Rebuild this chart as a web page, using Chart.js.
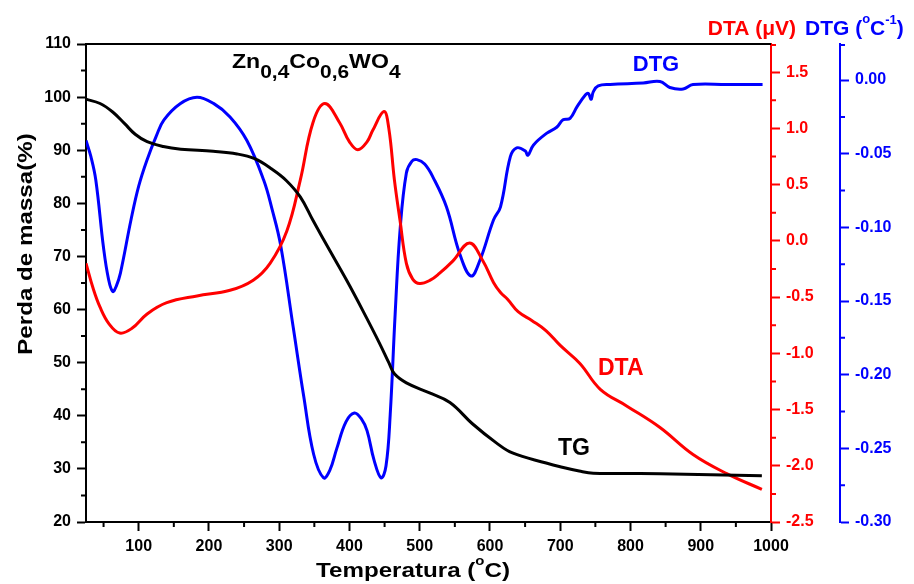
<!DOCTYPE html>
<html>
<head>
<meta charset="utf-8">
<script src="https://cdn.jsdelivr.net/npm/chart.js@4.4.1/dist/chart.umd.min.js"></script>
<style>
html, body { margin: 0; padding: 0; background: #fff; }
</style>
</head>
<body>
<canvas id="tgChart" width="914" height="584"></canvas>
<script>
// TG - mass loss (%)
const tgTemp = [25, 45, 63, 80, 95, 112, 135, 160, 206, 240, 265, 290, 310, 330, 348, 372, 396, 419, 443, 456, 464, 481, 514, 543, 575, 609, 632, 680, 700, 727, 747, 842, 987];
const tgMass = [99.6, 98.8, 97.2, 95.0, 93.0, 91.6, 90.7, 90.2, 89.8, 89.3, 88.4, 86.4, 84.3, 81.2, 76.8, 71.1, 65.5, 59.8, 53.6, 50.0, 47.9, 46.2, 44.3, 42.5, 38.5, 34.9, 33.0, 31.1, 30.4, 29.6, 29.2, 29.1, 28.7];

// DTA (uV)
const dtaTemp = [25, 35, 45, 58, 73, 90, 112, 140, 183, 230, 263, 287, 311, 330, 348, 365, 386, 400, 412, 425, 433, 449, 456, 464, 472, 481, 490, 500, 515, 528, 547, 571, 590, 605, 615, 625, 640, 660, 680, 700, 728, 757, 795, 842, 889, 937, 987];
const dtaSignal = [-0.20, -0.42, -0.59, -0.74, -0.82, -0.78, -0.65, -0.55, -0.49, -0.44, -0.35, -0.20, 0.09, 0.54, 1.05, 1.22, 1.05, 0.88, 0.81, 0.88, 0.98, 1.15, 1.00, 0.54, 0.18, -0.20, -0.34, -0.38, -0.35, -0.29, -0.18, -0.02, -0.18, -0.37, -0.46, -0.52, -0.63, -0.71, -0.80, -0.93, -1.09, -1.32, -1.47, -1.66, -1.90, -2.07, -2.21];

// DTG (1/°C)
const dtgTemp = [25, 32, 39, 50, 57, 63, 68, 74, 89, 100, 112, 125, 136, 159, 183, 207, 230, 254, 278, 290, 302, 320, 335, 349, 363, 372, 382, 395, 407, 417, 425, 435, 445, 452, 458, 465, 472, 481, 489, 496, 507, 519, 538, 557, 573, 586, 605, 615, 629, 638, 650, 654, 662, 681, 695, 704, 714, 724, 736, 740, 744, 747, 754, 771, 818, 842, 856, 875, 889, 937, 988];
const dtgRate = [-0.041, -0.052, -0.068, -0.114, -0.135, -0.1435, -0.140, -0.131, -0.095, -0.072, -0.054, -0.038, -0.027, -0.016, -0.0116, -0.016, -0.025, -0.041, -0.068, -0.088, -0.112, -0.168, -0.215, -0.254, -0.270, -0.265, -0.250, -0.232, -0.226, -0.230, -0.238, -0.258, -0.270, -0.262, -0.227, -0.159, -0.102, -0.063, -0.055, -0.054, -0.057, -0.066, -0.086, -0.118, -0.133, -0.122, -0.095, -0.086, -0.052, -0.046, -0.048, -0.051, -0.044, -0.036, -0.032, -0.027, -0.026, -0.018, -0.010, -0.009, -0.013, -0.008, -0.004, -0.003, -0.002, -0.001, -0.005, -0.006, -0.003, -0.003, -0.003];

// tick labels
const tempTicks = [100, 200, 300, 400, 500, 600, 700, 800, 900, 1000];
const massTicks = [20, 30, 40, 50, 60, 70, 80, 90, 100, 110];
const dtaTicks = [-2.5, -2.0, -1.5, -1.0, -0.5, 0.0, 0.5, 1.0, 1.5];
const dtgTicks = [-0.30, -0.25, -0.20, -0.15, -0.10, -0.05, 0.00];

// minor ticks (no labels)
const tempMinor = [50, 150, 250, 350, 450, 550, 650, 750, 850, 950];
const massMinor = [25, 35, 45, 55, 65, 75, 85, 95, 105];
const dtaMinor = [-2.25, -1.75, -1.25, -0.75, -0.25, 0.25, 0.75, 1.25, 1.75];
const dtgMinor = [-0.275, -0.225, -0.175, -0.125, -0.075, -0.025, 0.0245];

const FONT = '"Liberation Sans", Arial, sans-serif';
const RED = '#ff0000';
const BLUE = '#0000ff';

function toPoints(xs, ys) {
    return xs.map((x, i) => ({ x: x, y: ys[i] }));
}

function fixedTicks(values) {
    return scale => { scale.ticks = values.map(v => ({ value: v })); };
}

function axis(color, ticks, digits, extra) {
    return Object.assign({
        afterBuildTicks: fixedTicks(ticks),
        grid: { display: true, drawOnChartArea: false, tickLength: 9, tickWidth: 2, tickColor: color },
        border: { display: true, color: color, width: 2 },
        ticks: {
            color: color, font: { family: FONT, size: 16, weight: 'bold' }, padding: 6,
            autoSkip: false, maxRotation: 0,
            callback: v => Number(v).toFixed(digits)
        }
    }, extra);
}

// text with sub/superscripts: parts = [text, size, dy]
function richText(ctx, parts, x, y, opts) {
    ctx.save();
    ctx.translate(x, y);
    if (opts.rotate) ctx.rotate(opts.rotate);
    ctx.scale(opts.sx || 1, 1);
    ctx.fillStyle = opts.color || '#000';
    ctx.textBaseline = 'alphabetic';
    ctx.textAlign = 'left';
    let total = 0;
    parts.forEach(p => {
        ctx.font = `bold ${p[1]}px ${FONT}`;
        total += ctx.measureText(p[0]).width;
    });
    let cx = 0;
    if (opts.align === 'center') cx = -total / 2;
    if (opts.align === 'right') cx = -total;
    parts.forEach(p => {
        ctx.font = `bold ${p[1]}px ${FONT}`;
        ctx.fillText(p[0], cx, p[2]);
        cx += ctx.measureText(p[0]).width;
    });
    ctx.restore();
}

const decorations = {
    id: 'decorations',
    afterDraw(chart) {
        const ctx = chart.ctx;
        const ca = chart.chartArea;
        const s = chart.scales;
        ctx.save();

        // top frame
        ctx.strokeStyle = '#000';
        ctx.lineWidth = 2;
        ctx.beginPath();
        ctx.moveTo(ca.left, ca.top);
        ctx.lineTo(ca.right, ca.top);
        ctx.stroke();

        // minor ticks
        ctx.lineWidth = 2;
        ctx.strokeStyle = '#000';
        ctx.beginPath();
        tempMinor.forEach(v => {
            const px = s.x.getPixelForValue(v);
            ctx.moveTo(px, ca.bottom);
            ctx.lineTo(px, ca.bottom + 5);
        });
        massMinor.forEach(v => {
            const py = s.y.getPixelForValue(v);
            ctx.moveTo(ca.left, py);
            ctx.lineTo(ca.left - 5, py);
        });
        ctx.stroke();

        ctx.strokeStyle = RED;
        ctx.beginPath();
        dtaMinor.forEach(v => {
            const py = Math.max(ca.top + 1, s.y1.getPixelForValue(v));
            ctx.moveTo(s.y1.left, py);
            ctx.lineTo(s.y1.left + 5, py);
        });
        ctx.stroke();

        ctx.strokeStyle = BLUE;
        ctx.beginPath();
        dtgMinor.forEach(v => {
            const py = Math.max(ca.top + 1, s.y2.getPixelForValue(v));
            ctx.moveTo(s.y2.left, py);
            ctx.lineTo(s.y2.left + 5, py);
        });
        ctx.stroke();

        // axis titles
        richText(ctx, [['Temperatura (', 21, 0], ['o', 13, -12], ['C)', 21, 0]], 413, 577, { align: 'center', sx: 1.15 });
        richText(ctx, [['Perda de massa(%)', 21, 0]], 32, 244, { align: 'center', sx: 1.15, rotate: -Math.PI / 2 });
        richText(ctx, [['DTA (\u03bcV)', 21, 0]], 796, 35, { align: 'right', color: RED });
        richText(ctx, [['DTG (', 21, 0], ['o', 13, -12], ['C', 21, 0], ['-1', 13, -11], [')', 21, 0]], 805, 35, { color: BLUE });

        // sample formula
        richText(ctx, [['Zn', 21, 0], ['0,4', 19, 10], ['Co', 21, 0], ['0,6', 19, 10], ['WO', 21, 0], ['4', 19, 10]], 232, 68, { sx: 1.1 });

        // curve labels
        richText(ctx, [['DTG', 22, 0]], 656, 71, { align: 'center', color: BLUE });
        richText(ctx, [['DTA', 23, 0]], 598, 375, { color: RED });
        richText(ctx, [['TG', 23, 0]], 590, 455, { align: 'right' });

        ctx.restore();
    }
};

new Chart(document.getElementById('tgChart'), {
    type: 'line',
    data: {
        datasets: [
            { label: 'TG', data: toPoints(tgTemp, tgMass), yAxisID: 'y', borderColor: '#000' },
            { label: 'DTA', data: toPoints(dtaTemp, dtaSignal), yAxisID: 'y1', borderColor: RED },
            { label: 'DTG', data: toPoints(dtgTemp, dtgRate), yAxisID: 'y2', borderColor: BLUE }
        ]
    },
    options: {
        responsive: false,
        animation: false,
        devicePixelRatio: 1,
        layout: { padding: { top: 44, left: 0, right: 0, bottom: 0 } },
        elements: {
            point: { radius: 0 },
            line: { borderWidth: 3, tension: 0.4, fill: false, capBezierPoints: true }
        },
        plugins: { legend: { display: false }, tooltip: { enabled: false } },
        scales: {
            x: axis('#000', tempTicks, 0, {
                type: 'linear', min: 25, max: 1000, position: 'bottom',
                afterFit: sc => { sc.height = 62; }
            }),
            y: axis('#000', massTicks, 0, {
                type: 'linear', min: 20, max: 110, position: 'left',
                afterFit: sc => { sc.width = 86; }
            }),
            y1: axis(RED, dtaTicks, 1, {
                type: 'linear', min: -2.5, max: 1.75, position: 'right', weight: 0,
                afterFit: sc => { sc.width = 69; }
            }),
            y2: axis(BLUE, dtgTicks, 2, {
                type: 'linear', min: -0.30, max: 0.0245, position: 'right', weight: 1,
                afterFit: sc => { sc.width = 74; }
            })
        }
    },
    plugins: [decorations]
});
</script>
</body>
</html>
